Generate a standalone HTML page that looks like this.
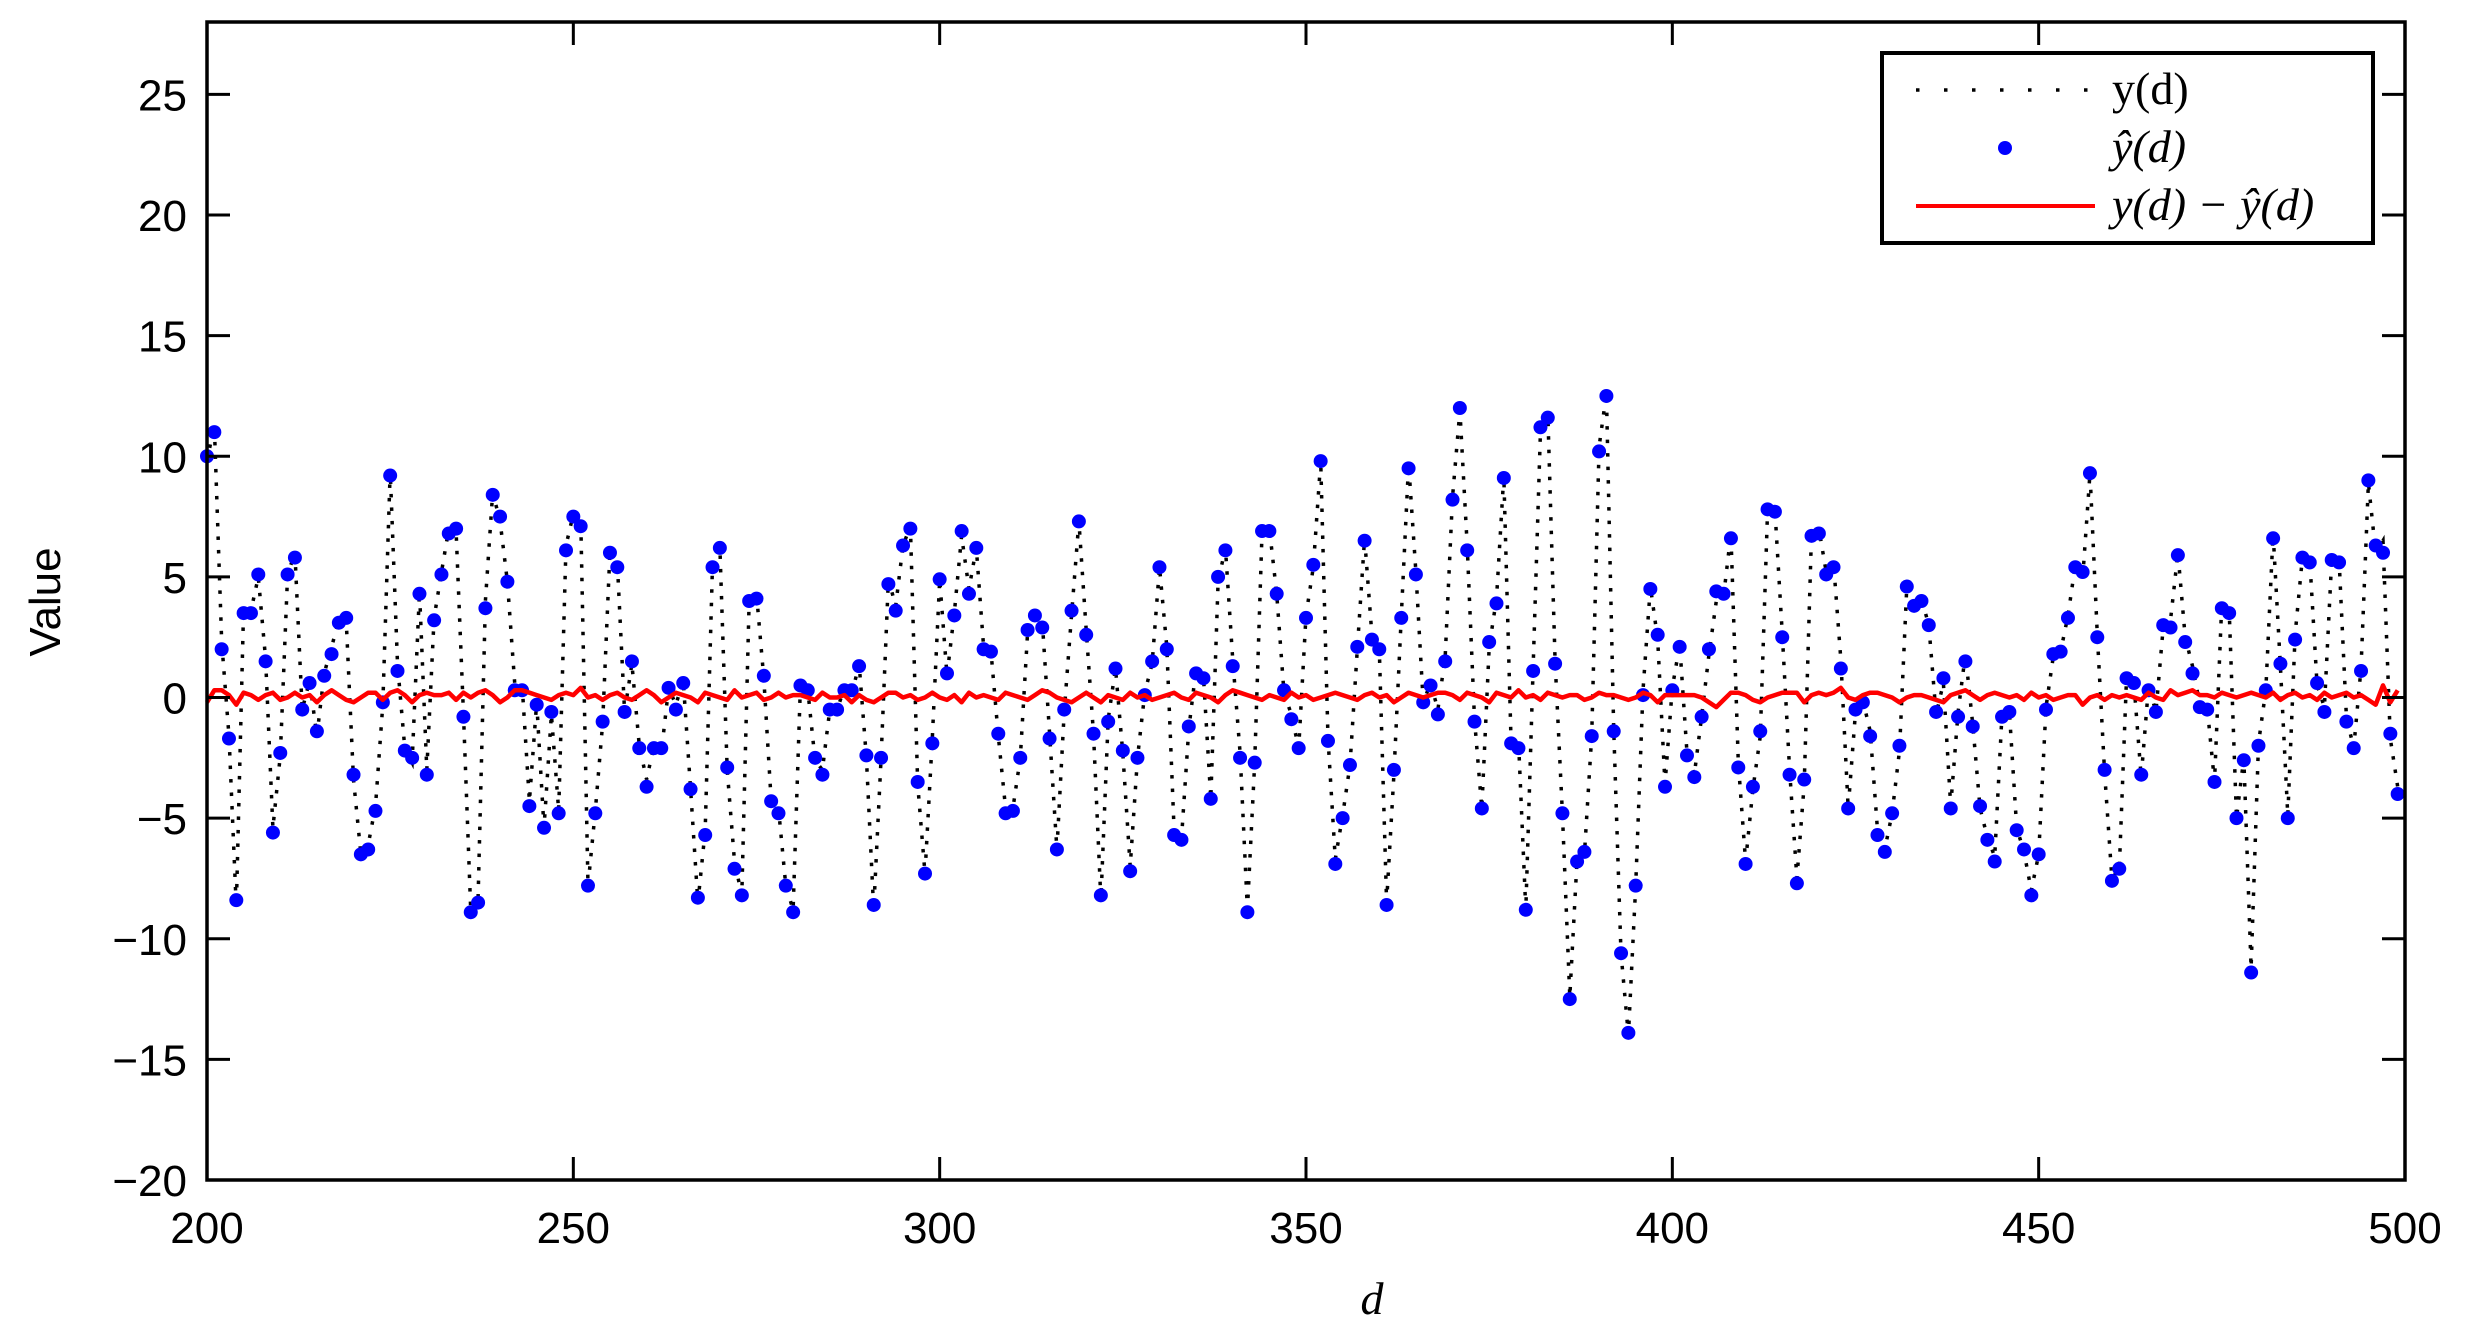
<!DOCTYPE html>
<html><head><meta charset="utf-8"><style>
html,body{margin:0;padding:0;background:#fff;}
svg{display:block;}
text{font-family:"Liberation Sans",sans-serif;}
</style></head><body>
<svg id="chart" width="2471" height="1334" xmlns="http://www.w3.org/2000/svg">
<rect width="2471" height="1334" fill="#fff"/>
<g id="plot"></g>
<g id="axes"></g>
<text x="60" y="602" font-size="44" text-anchor="middle" transform="rotate(-90 60 602)">Value</text>
<text x="1372" y="1314" font-size="46" font-style="italic" text-anchor="middle" style="font-family:'Liberation Serif',serif">d</text>
<g>
<rect x="1882" y="53" width="491" height="190" fill="#fff" stroke="#000" stroke-width="4"/>
<line x1="1916" y1="90" x2="2095" y2="90" stroke="#000" stroke-width="3.5" stroke-dasharray="3.5 24.5"/>
<text x="2112" y="104" font-size="46" style="font-family:'Liberation Serif',serif">y(d)</text>
<circle cx="2005" cy="148" r="7" fill="#0000ff"/>
<text x="2112" y="162" font-size="46" font-style="italic" style="font-family:'Liberation Serif',serif">ŷ(d)</text>
<line x1="1916" y1="206" x2="2095" y2="206" stroke="#ff0000" stroke-width="4"/>
<text x="2112" y="220" font-size="46" font-style="italic" style="font-family:'Liberation Serif',serif">y(d) − ŷ(d)</text>
</g>
</svg>
<script>
const xTicks=[200,250,300,350,400,450,500];
const yTicks=[-20,-15,-10,-5,0,5,10,15,20,25];
const dStart=200;
const yhat=[10,11,2,-1.7,-8.4,3.5,3.5,5.1,1.5,-5.6,-2.3,5.1,5.8,-0.5,0.6,-1.4,0.9,1.8,3.1,3.3,-3.2,-6.5,-6.3,-4.7,-0.2,9.2,1.1,-2.2,-2.5,4.3,-3.2,3.2,5.1,6.8,7,-0.8,-8.9,-8.5,3.7,8.4,7.5,4.8,0.3,0.3,-4.5,-0.3,-5.4,-0.6,-4.8,6.1,7.5,7.1,-7.8,-4.8,-1,6,5.4,-0.6,1.5,-2.1,-3.7,-2.1,-2.1,0.4,-0.5,0.6,-3.8,-8.3,-5.7,5.4,6.2,-2.9,-7.1,-8.2,4,4.1,0.9,-4.3,-4.8,-7.8,-8.9,0.5,0.3,-2.5,-3.2,-0.5,-0.5,0.3,0.3,1.3,-2.4,-8.6,-2.5,4.7,3.6,6.3,7,-3.5,-7.3,-1.9,4.9,1,3.4,6.9,4.3,6.2,2,1.9,-1.5,-4.8,-4.7,-2.5,2.8,3.4,2.9,-1.7,-6.3,-0.5,3.6,7.3,2.6,-1.5,-8.2,-1,1.2,-2.2,-7.2,-2.5,0.1,1.5,5.4,2,-5.7,-5.9,-1.2,1,0.8,-4.2,5,6.1,1.3,-2.5,-8.9,-2.7,6.9,6.9,4.3,0.3,-0.9,-2.1,3.3,5.5,9.8,-1.8,-6.9,-5,-2.8,2.1,6.5,2.4,2,-8.6,-3,3.3,9.5,5.1,-0.2,0.5,-0.7,1.5,8.2,12,6.1,-1,-4.6,2.3,3.9,9.1,-1.9,-2.1,-8.8,1.1,11.2,11.6,1.4,-4.8,-12.5,-6.8,-6.4,-1.6,10.2,12.5,-1.4,-10.6,-13.9,-7.8,0.1,4.5,2.6,-3.7,0.3,2.1,-2.4,-3.3,-0.8,2,4.4,4.3,6.6,-2.9,-6.9,-3.7,-1.4,7.8,7.7,2.5,-3.2,-7.7,-3.4,6.7,6.8,5.1,5.4,1.2,-4.6,-0.5,-0.2,-1.6,-5.7,-6.4,-4.8,-2,4.6,3.8,4,3,-0.6,0.8,-4.6,-0.8,1.5,-1.2,-4.5,-5.9,-6.8,-0.8,-0.6,-5.5,-6.3,-8.2,-6.5,-0.5,1.8,1.9,3.3,5.4,5.2,9.3,2.5,-3,-7.6,-7.1,0.8,0.6,-3.2,0.3,-0.6,3,2.9,5.9,2.3,1,-0.4,-0.5,-3.5,3.7,3.5,-5,-2.6,-11.4,-2,0.3,6.6,1.4,-5,2.4,5.8,5.6,0.6,-0.6,5.7,5.6,-1,-2.1,1.1,9,6.3,6,-1.5,-4];
const resid=[-0.2,0.3,0.3,0.1,-0.3,0.2,0.1,-0.1,0.1,0.2,-0.1,0,0.2,0,0.1,-0.2,0.1,0.3,0.1,-0.1,-0.2,0,0.2,0.2,-0.1,0.2,0.3,0.1,-0.2,0.1,0.2,0.1,0.1,0.2,-0.1,0.2,0,0.2,0.3,0.1,-0.2,0,0.3,0.3,0.2,0.1,0,-0.1,0.1,0.2,0.1,0.4,0,0.1,-0.1,0.1,0.2,0,-0.1,0.1,0.3,0.1,-0.2,0,0.2,0.1,0,-0.2,0.2,0.1,0,-0.1,0.3,0,0.1,0.2,-0.1,0,0.2,0,0.1,0.1,0,-0.1,0.2,0,0,0.1,-0.2,0.1,-0.1,-0.2,0,0.2,0.2,0,0.1,-0.1,0,0.2,0,-0.1,0.1,-0.2,0.2,0,0.1,0,-0.1,0.2,0.1,0,-0.1,0.1,0.3,0.2,0,-0.1,-0.2,0,0.2,0,-0.2,0.1,0,-0.1,0.2,0,0.1,-0.1,0,0.1,0.2,0,-0.1,0.2,0.1,0,-0.2,0.1,0.3,0.2,0.1,0,-0.1,0.1,0,-0.1,0.2,0,0.1,-0.1,0,0.1,0.2,0.1,0,-0.1,0.1,0.2,0,0.1,-0.2,0,0.2,0.1,0,0.1,0.2,0.2,0.1,-0.1,0.2,0.1,0,-0.2,0.2,0.1,0,0.3,0,0.1,-0.1,0.2,0.1,0,0.1,0.1,-0.1,0,0.2,0.1,0.1,0,-0.1,0,0.2,0.1,-0.2,0.1,0.1,0.1,0.1,0.1,0,-0.2,-0.4,-0.1,0.2,0.2,0.1,-0.1,-0.2,0,0.1,0.2,0.2,0.2,-0.2,0.1,0.2,0.1,0.2,0.4,0,-0.1,0.1,0.2,0.2,0.1,0,-0.2,0,0.1,0.1,0,-0.1,-0.2,0.1,0.2,0.3,0.1,-0.1,0.1,0.2,0.1,0,0.1,-0.1,0.2,0,0.1,-0.1,0,0.1,0.1,-0.3,0,0.1,-0.1,0.1,0,0.1,0,-0.1,0.2,0,-0.1,0.3,0.1,0.2,0.3,0.1,0.1,0,0.2,0.1,0,0.1,0.2,0.1,0,0.2,-0.1,0.1,0.2,0,0.1,-0.1,0.2,0,0.1,0.2,0,0.1,-0.1,-0.3,0.5,-0.2,0.3,0.1,0.1,0.2,0.1,0,0.2,0.3,0.2,0.1,0.3,0.2,0.2];
const L=207,R=2405,T=22,B=1180,XMIN=200,XMAX=500,YMIN=-20,YMAX=28;
const sx=v=>L+(v-XMIN)*(R-L)/(XMAX-XMIN);
const sy=v=>B-(v-YMIN)*(B-T)/(YMAX-YMIN);
const NS="http://www.w3.org/2000/svg";
const plot=document.getElementById('plot'),axes=document.getElementById('axes');
function mk(tag,attrs,parent){const e=document.createElementNS(NS,tag);for(const k in attrs)e.setAttribute(k,attrs[k]);parent.appendChild(e);return e;}
const clip=mk('clipPath',{id:'clp'},plot);mk('rect',{x:L,y:T,width:R-L,height:B-T},clip);
let py='',pr='';
for(let i=0;i<yhat.length;i++){const d=dStart+i;const yv=yhat[i]+resid[i];
py+=(i?'L':'M')+sx(d).toFixed(1)+' '+sy(yv).toFixed(1);
pr+=(i?'L':'M')+sx(d).toFixed(1)+' '+sy(resid[i]).toFixed(1);}
const ly=mk('path',{d:py,fill:'none',stroke:'#000','stroke-width':3.5,'stroke-dasharray':'3.5 10','clip-path':'url(#clp)'},plot);


for(let i=0;i<yhat.length;i++){
const c=mk('circle',{cx:sx(dStart+i),cy:sy(yhat[i]),r:7,fill:'#0000ff'},plot);

}
const lr=mk('path',{d:pr,fill:'none',stroke:'#ff0000','stroke-width':4.5,'stroke-linejoin':'round'},plot);


xTicks.forEach(v=>{const x=sx(v);
const t1=mk('line',{x1:x,y1:B,x2:x,y2:B-23,stroke:'#000','stroke-width':3},axes);


const t2=mk('line',{x1:x,y1:T,x2:x,y2:T+23,stroke:'#000','stroke-width':3},axes);


const tx=mk('text',{x:x,y:1243,'font-size':44,'text-anchor':'middle'},axes);tx.textContent=v;

});
yTicks.forEach(v=>{const y=sy(v);
const t1=mk('line',{x1:L,y1:y,x2:L+23,y2:y,stroke:'#000','stroke-width':3},axes);


const t2=mk('line',{x1:R,y1:y,x2:R-23,y2:y,stroke:'#000','stroke-width':3},axes);


const tx=mk('text',{x:187,y:y+16,'font-size':44,'text-anchor':'end'},axes);tx.textContent=(v<0?'\u2212'+(-v):v);

});
const fr=mk('rect',{x:L,y:T,width:R-L,height:B-T,fill:'none',stroke:'#000','stroke-width':3.5},axes);


</script>
</body></html>
